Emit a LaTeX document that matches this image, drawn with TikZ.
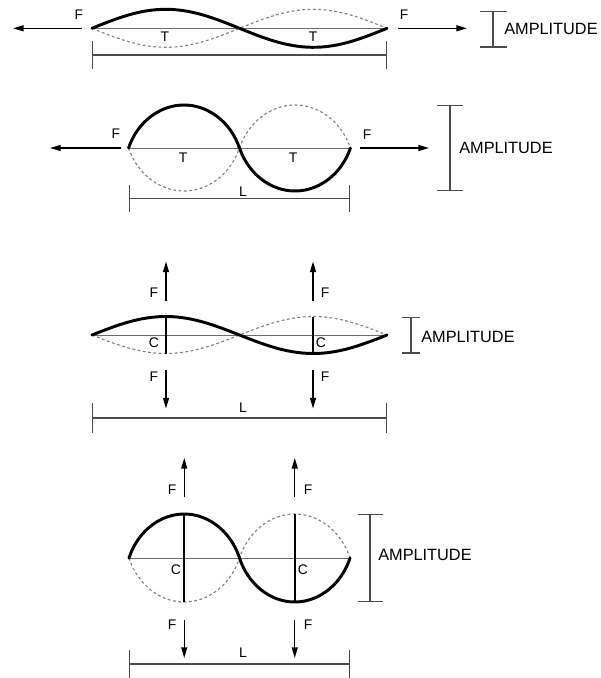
\documentclass[tikz,border=0pt]{standalone}
\usepackage{fontspec}
\setmainfont{Liberation Sans}
\usetikzlibrary{arrows.meta}

\begin{document}
\begin{tikzpicture}[x=0.025cm, y=-0.025cm,
  wave/.style={line width=2.1pt, line cap=round, line join=round},
  ghost/.style={gray, line width=0.8pt, dash pattern=on 2pt off 1.8pt},
  axis/.style={gray!85!black, line width=0.7pt},
  rib/.style={line width=1.2pt},
  force/.style={line width=0.9pt, -{Triangle[length=7.5pt,width=4.2pt]}},
  dim/.style={gray!60!black, line width=0.8pt},
  lbl/.style={font=\fontsize{9.9}{12}\selectfont, inner sep=0pt},
  amp/.style={font=\fontsize{11.6}{14}\selectfont, inner sep=0pt, anchor=west}]
\useasboundingbox (0,0) rectangle (600,678);

% tension, small amplitude
\coordinate (w1l) at (92,28.3);
\coordinate (w1r) at (387,28.3);
\coordinate (f1a) at (13,28.3);
\coordinate (f1b) at (467,28.3);
\draw[axis] (w1l) -- (w1r);
\draw[ghost] plot[domain=0:360, samples=60] ({92+0.81944*\x}, {28.3+19*sin(\x)});
\draw[wave] plot[domain=0:360, samples=60] ({92+0.81944*\x}, {28.3-19*sin(\x)});
\draw[force] ([xshift=-10*0.025cm]w1l) -- (f1a);
\draw[force] ([xshift=11*0.025cm]w1r) -- (f1b);
\node (F1l) at (79,15) [lbl] {F};
\node (F1r) at (404,15) [lbl] {F};
\node (T1a) at (165,37) [lbl] {T};
\node (T1b) at (313,37) [lbl] {T};
\draw[dim, {Bar[width=0.7cm]}-{Bar[width=0.7cm]}] (92,55) -- (387,55);
\draw[dim, {Bar[width=0.675cm]}-{Bar[width=0.675cm]}] (493,11) -- (493,47.5);
\node (A1) at (504,29) [amp] {AMPLITUDE};

% tension, large amplitude
\coordinate (w2l) at (128.5,148);
\coordinate (w2r) at (350,148);
\coordinate (f2a) at (50,148);
\coordinate (f2b) at (429,148);
\draw[axis] (w2l) -- (w2r);
\draw[ghost] plot[domain=0:180, samples=40] ({184-55.4*(0.6*cos(\x)+0.4*(1-\x/90))}, {148+43*sin(\x)})
  -- plot[domain=180:360, samples=40] ({295+55.4*(0.6*cos(\x)+0.4*(\x-270)/90)}, {148+43*sin(\x)});
\draw[wave] plot[domain=0:180, samples=40] ({184-55.4*(0.6*cos(\x)+0.4*(1-\x/90))}, {148-43*sin(\x)})
  -- plot[domain=180:360, samples=40] ({295+55.4*(0.6*cos(\x)+0.4*(\x-270)/90)}, {148-43*sin(\x)});
\draw[force] ([xshift=-8*0.025cm]w2l) -- (f2a);
\draw[force] ([xshift=10*0.025cm]w2r) -- (f2b);
\node (F2l) at (116,134) [lbl] {F};
\node (F2r) at (367,135) [lbl] {F};
\node (T2a) at (183,158) [lbl] {T};
\node (T2b) at (293,158) [lbl] {T};
\node (L2) at (243,192) [lbl] {L};
\draw[dim, {Bar[width=0.675cm]}-{Bar[width=0.675cm]}] (128.5,198.5) -- (350,198.5);
\draw[dim, {Bar[width=0.65cm]}-{Bar[width=0.65cm]}] (450,105) -- (450,191);
\node (A2) at (459,148) [amp] {AMPLITUDE};

% compression, small amplitude
\coordinate (w3l) at (92,335);
\coordinate (w3r) at (387,335);
\coordinate (c3at) at (166,316.5);
\coordinate (c3ab) at (166,353.5);
\coordinate (c3bt) at (313,316.5);
\coordinate (c3bb) at (313,353.5);
\draw[axis] (w3l) -- (w3r);
\draw[ghost] plot[domain=0:360, samples=60] ({92+0.81944*\x}, {335+18.5*sin(\x)});
\draw[wave] plot[domain=0:360, samples=60] ({92+0.81944*\x}, {335-18.5*sin(\x)});
\draw[rib] (c3at) -- (c3ab);
\draw[rib] (c3bt) -- (c3bb);
\draw[force] ([yshift=16*0.025cm]c3at) -- ([yshift=55*0.025cm]c3at);
\draw[force] ([yshift=16*0.025cm]c3bt) -- ([yshift=55*0.025cm]c3bt);
\draw[force] ([yshift=-16*0.025cm]c3ab) -- ([yshift=-55*0.025cm]c3ab);
\draw[force] ([yshift=-16*0.025cm]c3bb) -- ([yshift=-55*0.025cm]c3bb);
\node (F3a) at (154,293) [lbl] {F};
\node (F3b) at (325,293) [lbl] {F};
\node (F3c) at (154,377) [lbl] {F};
\node (F3d) at (325,377) [lbl] {F};
\node (C3a) at (154,343) [lbl] {C};
\node (C3b) at (321,343) [lbl] {C};
\node (L3) at (243,408) [lbl] {L};
\draw[dim, {Bar[width=0.75cm]}-{Bar[width=0.75cm]}] (92,418) -- (387,418);
\draw[dim, {Bar[width=0.45cm]}-{Bar[width=0.45cm]}] (411,316.5) -- (411,353.5);
\node (A3) at (421,337) [amp] {AMPLITUDE};

% compression, large amplitude
\coordinate (w4l) at (129,558);
\coordinate (w4r) at (350,558);
\coordinate (c4at) at (184.25,514);
\coordinate (c4ab) at (184.25,602);
\coordinate (c4bt) at (294.75,514);
\coordinate (c4bb) at (294.75,602);
\draw[axis] (w4l) -- (w4r);
\draw[ghost] plot[domain=0:180, samples=40] ({184.25-55.25*(0.6*cos(\x)+0.4*(1-\x/90))}, {558+44*sin(\x)})
  -- plot[domain=180:360, samples=40] ({294.75+55.25*(0.6*cos(\x)+0.4*(\x-270)/90)}, {558+44*sin(\x)});
\draw[wave] plot[domain=0:180, samples=40] ({184.25-55.25*(0.6*cos(\x)+0.4*(1-\x/90))}, {558-44*sin(\x)})
  -- plot[domain=180:360, samples=40] ({294.75+55.25*(0.6*cos(\x)+0.4*(\x-270)/90)}, {558-44*sin(\x)});
\draw[rib] (c4at) -- (c4ab);
\draw[rib] (c4bt) -- (c4bb);
\draw[force] ([yshift=17*0.025cm]c4at) -- ([yshift=56*0.025cm]c4at);
\draw[force] ([yshift=17*0.025cm]c4bt) -- ([yshift=56*0.025cm]c4bt);
\draw[force] ([yshift=-18*0.025cm]c4ab) -- ([yshift=-56*0.025cm]c4ab);
\draw[force] ([yshift=-18*0.025cm]c4bb) -- ([yshift=-56*0.025cm]c4bb);
\node (F4a) at (172,490) [lbl] {F};
\node (F4b) at (308,490) [lbl] {F};
\node (F4c) at (172,625) [lbl] {F};
\node (F4d) at (308,625) [lbl] {F};
\node (C4a) at (176,570) [lbl] {C};
\node (C4b) at (303,570) [lbl] {C};
\node (L4) at (243,653) [lbl] {L};
\draw[dim, {Bar[width=0.7cm]}-{Bar[width=0.7cm]}] (129,664) -- (350,664);
\draw[dim, {Bar[width=0.625cm]}-{Bar[width=0.625cm]}] (370,514) -- (370,602);
\node (A4) at (378,555) [amp] {AMPLITUDE};
\end{tikzpicture}
\end{document}
